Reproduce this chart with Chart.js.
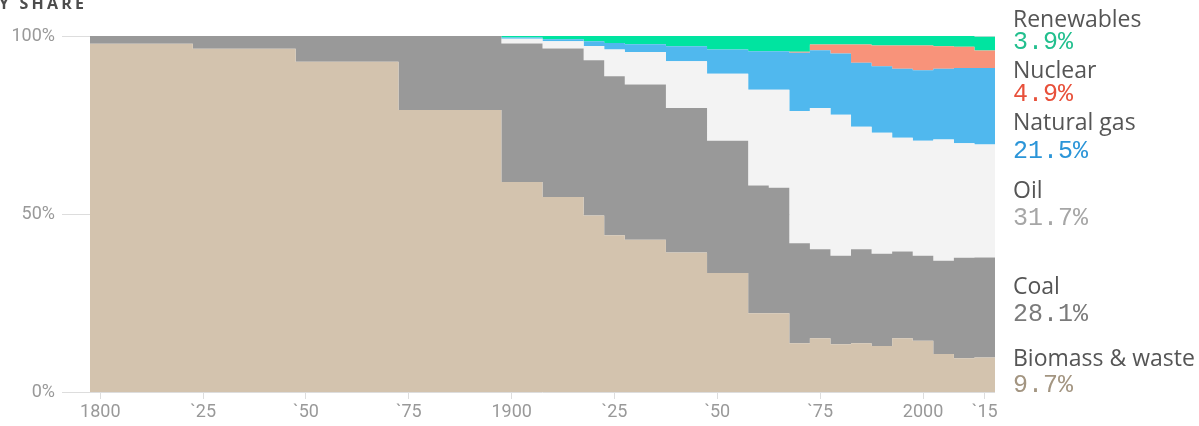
<!DOCTYPE html>
<html>
<head>
<meta charset="utf-8">
<script src="https://cdn.jsdelivr.net/npm/chart.js@4/dist/chart.umd.min.js"></script>
<style>
  html, body { margin: 0; padding: 0; background: #fff; overflow: hidden; }
  #wrap { position: relative; width: 1199px; height: 426px; }
</style>
</head>
<body>
<div id="wrap"><canvas id="c" width="1199" height="426"></canvas></div>
<script>
// Share of world primary energy by source (%), one value per sample year
const years      = [1800, 1825, 1850, 1875, 1900, 1910, 1920, 1925, 1930, 1940, 1950, 1960, 1965, 1970, 1975, 1980, 1985, 1990, 1995, 2000, 2005, 2010, 2015];
const biomass    = [97.8, 96.4, 92.8, 79.2, 59.0, 54.8, 49.6, 44.0, 42.8, 39.2, 33.4, 22.1, 22.1, 13.7, 15.1, 13.4, 13.7, 12.9, 15.1, 14.4, 10.7,  9.5,  9.7];
const coal       = [ 2.2,  3.6,  7.2, 20.8, 38.9, 41.7, 43.6, 44.7, 43.6, 40.6, 37.2, 35.9, 35.3, 28.1, 25.0, 24.9, 26.4, 25.9, 24.4, 23.9, 26.2, 28.2, 28.1];
const oil        = [ 0.0,  0.0,  0.0,  0.0,  1.3,  2.0,  4.0,  7.5,  9.1, 13.1, 18.8, 26.9, 27.5, 37.1, 39.7, 39.6, 34.4, 34.0, 31.9, 32.3, 34.0, 32.2, 31.7];
const naturalGas = [ 0.0,  0.0,  0.0,  0.0,  0.4,  0.6,  1.3,  1.8,  2.2,  4.2,  6.8, 10.8, 10.8, 16.4, 16.2, 17.2, 18.0, 18.7, 19.4, 19.8, 19.9, 21.1, 21.5];
const nuclear    = [ 0.0,  0.0,  0.0,  0.0,  0.0,  0.0,  0.0,  0.0,  0.0,  0.0,  0.0,  0.0,  0.0,  0.3,  1.6,  2.5,  5.1,  5.8,  6.5,  6.9,  6.3,  6.0,  4.9];
const renewables = [ 0.0,  0.0,  0.0,  0.0,  0.4,  0.9,  1.5,  2.0,  2.4,  2.9,  3.8,  4.3,  4.3,  4.4,  2.4,  2.4,  2.4,  2.7,  2.7,  2.7,  2.9,  3.0,  3.9];

const seriesNames = ['Biomass & waste', 'Coal', 'Oil', 'Natural gas', 'Nuclear', 'Renewables'];

// Axis ticks
const tickYears  = [1800, 1825, 1850, 1875, 1900, 1925, 1950, 1975, 2000, 2015];
const tickLabels = ['1800', '`25', '`50', '`75', '1900', '`25', '`50', '`75', '2000', '`15'];
const yTickValues = [0, 50, 100];
const yTickLabels = ['0%', '50%', '100%'];

// Styling
const fillColors  = ['#d3c3ae', '#999999', '#f3f3f3', '#50b8ee', '#f8937a', '#00e4a0'];
const valueColors = ['#a39581', '#7a7a7a', '#a6a6a6', '#2b95d8', '#e8503a', '#22bf8e'];
// Right-hand label block: baseline of the name and of the value, per series
const nameBaselines  = [366, 294, 198, 130, 78, 27];
const valueBaselines = [392, 321, 225, 158, 101, 49];

// Each sample covers the span from half a five-year step before it up to the next sample
const HALF_STEP = 2.5;

const seriesValues = [biomass, coal, oil, naturalGas, nuclear, renewables];

function stepPoints(values) {
  const pts = years.map((yr, i) => ({ x: yr - HALF_STEP, y: values[i] }));
  pts.push({ x: years[years.length - 1] + HALF_STEP, y: values[values.length - 1] });
  return pts;
}

const datasets = seriesValues.map((vals, i) => ({
  label: seriesNames[i],
  data: stepPoints(vals),
  backgroundColor: fillColors[i],
  borderColor: 'rgba(0,0,0,0)',
  borderWidth: 0,
  pointRadius: 0,
  stepped: true,
  fill: i === 0 ? 'origin' : '-1'
}));

const sideLabels = {
  id: 'sideLabels',
  afterDraw(chart) {
    const ctx = chart.ctx;
    ctx.save();
    ctx.textAlign = 'left';
    ctx.textBaseline = 'alphabetic';
    const x = chart.chartArea.right + 18;
    seriesValues.forEach((vals, i) => {
      const last = vals[vals.length - 1];
      ctx.font = '23px "Open Sans"';
      ctx.fillStyle = '#555555';
      ctx.fillText(seriesNames[i], x, nameBaselines[i]);
      ctx.font = '25px "Liberation Mono"';
      ctx.fillStyle = valueColors[i];
      ctx.fillText(last.toFixed(1) + '%', x, valueBaselines[i]);
    });
    ctx.restore();
  }
};

const heading = {
  id: 'heading',
  afterDraw(chart) {
    const ctx = chart.ctx;
    ctx.save();
    ctx.font = 'bold 16px "Open Sans"';
    ctx.fillStyle = '#4d4d4d';
    ctx.textAlign = 'left';
    ctx.textBaseline = 'alphabetic';
    if ('letterSpacing' in ctx) ctx.letterSpacing = '3.2px';
    ctx.fillText('Y SHARE', -1, 9);
    ctx.restore();
  }
};

new Chart(document.getElementById('c'), {
  type: 'line',
  data: { datasets },
  plugins: [sideLabels, heading],
  options: {
    responsive: false,
    animation: false,
    devicePixelRatio: 1,
    layout: { padding: { top: 36, right: 204, left: 0, bottom: 0 } },
    plugins: { legend: { display: false }, tooltip: { enabled: false } },
    elements: { point: { radius: 0 }, line: { borderWidth: 0, tension: 0 } },
    scales: {
      x: {
        type: 'linear',
        min: years[0] - HALF_STEP,
        max: years[years.length - 1] + HALF_STEP,
        afterBuildTicks: s => { s.ticks = tickYears.map(v => ({ value: v })); },
        afterFit: s => { s.height = 34; },
        ticks: {
          autoSkip: false,
          maxRotation: 0,
          padding: 3,
          color: '#999999',
          font: { family: 'Roboto', size: 18 },
          callback: v => tickLabels[tickYears.indexOf(v)]
        },
        grid: { drawOnChartArea: false, drawTicks: true, tickLength: 7, color: '#dddddd' },
        border: { display: false }
      },
      y: {
        stacked: true,
        min: 0,
        max: 100,
        afterBuildTicks: s => { s.ticks = yTickValues.map(v => ({ value: v })); },
        afterFit: s => { s.width = 90; },
        ticks: {
          padding: 7,
          color: '#999999',
          font: { family: 'Roboto', size: 18 },
          callback: v => yTickLabels[yTickValues.indexOf(v)]
        },
        grid: { color: '#dddddd', drawTicks: true, tickLength: 28 },
        border: { display: false }
      }
    }
  }
});
</script>
</body>
</html>
